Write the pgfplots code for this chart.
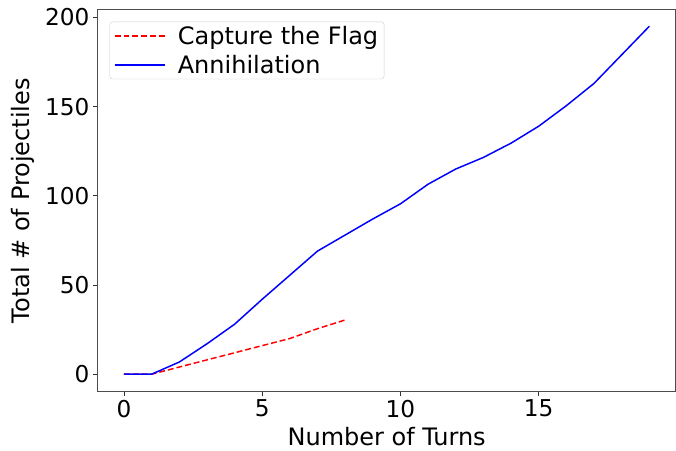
\documentclass[border=0pt]{standalone}
\usepackage{pgfplots}
\pgfplotsset{compat=1.18}
\usepackage{fontspec}
\setmainfont{DejaVu Sans}

\definecolor{ctfred}{RGB}{255,0,0}
\definecolor{annblue}{RGB}{0,0,255}

\begin{document}
\begin{tikzpicture}
    \begin{axis}[
        name=ax,
        scale only axis,
        width=585.6bp, height=386.7bp,
        xmin=-0.95, xmax=19.95,
        ymin=-9.7, ymax=204.2,
        xtick={0,5,10,15},
        ytick={0,50,100,150,200},
        tick align=outside,
        xtick pos=bottom, ytick pos=left,
        major tick length=5bp,
        tick style={black!80, line width=0.8bp},
        axis line style={black!70, line width=0.8bp},
        label style={font=\fontsize{24.4}{28}\selectfont},
        ticklabel style={font=\fontsize{23.6}{27}\selectfont},
        /pgf/number format/assume math mode=true,
        xlabel={Number of Turns},
        ylabel={Total \# of Projectiles},
        xlabel style={at={(axis description cs:0.5,0)}, anchor=base, yshift=-55bp},
        ylabel style={at={(ticklabel cs:0.5)}, anchor=south, yshift=4bp},
        legend cell align=left,
        legend style={
            at={(0.0205,0.969)}, anchor=north west,
            draw=black!20, rounded corners=3bp,
            font=\fontsize{24.4}{28}\selectfont,
            inner xsep=4bp, inner ysep=2bp,
            row sep=6bp,
        },
        legend image code/.code={
            \draw[#1, line width=2bp] (0bp,0bp) -- (51bp,0bp);
        },
        ]
        % Capture the Flag
        \addplot[draw=ctfred, line width=1.5bp, dash pattern=on 6bp off 3bp] coordinates {
            (0,0) (1,0) (2,4) (3,8) (4,12) (5,16) (6,20) (7,25.5) (8,30.4)
        };
        \addlegendentry{\hspace{10bp}Capture the Flag}
        % Annihilation
        \addplot[draw=annblue, line width=1.5bp] coordinates {
            (0,0) (1,0) (2,6.8) (3,17) (4,28) (5,42) (6,55.5) (7,69)
            (8,78) (9,87) (10,95.5) (11,106.5) (12,115) (13,121.5) (14,129.5)
            (15,139) (16,150.5) (17,163) (18,179) (19,195)
        };
        \addlegendentry{\hspace{10bp}Annihilation}
    \end{axis}
    \path[use as bounding box] ([shift={(-99bp,-59.3bp)}]ax.south west) rectangle ([shift={(-8.6bp,10bp)}]ax.north east);
\end{tikzpicture}
\end{document}
